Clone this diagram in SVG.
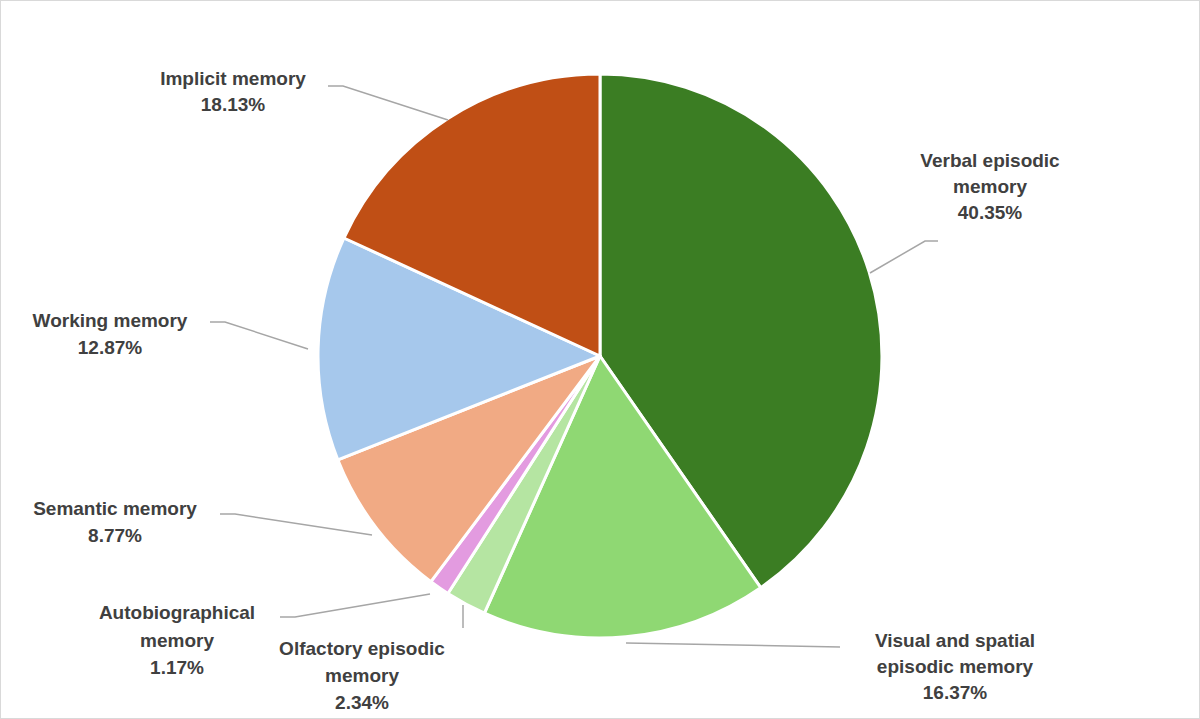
<svg xmlns="http://www.w3.org/2000/svg" width="1200" height="719" viewBox="0 0 1200 719">
<style>
.s{stroke:#fff;stroke-width:3;stroke-linejoin:round}
.l{fill:none;stroke:#a6a6a6;stroke-width:1.5}
text{font-family:"Liberation Sans",Arial,sans-serif;font-weight:bold;font-size:19px;fill:#404040;text-anchor:middle}
</style>
<rect x="0.5" y="0.5" width="1199" height="718" fill="#fff" stroke="#d9d9d9"/>
<g id="slices">
<path id="verbal" class="s" fill="#3b7d23" d="M600,356 L600,74 A282,282 0 0 1 760.7,587.7 Z"/>
<path id="visual" class="s" fill="#8fd873" d="M600,356 L760.7,587.7 A282,282 0 0 1 484.4,613.2 Z"/>
<path id="olfactory" class="s" fill="#b5e5a2" d="M600,356 L484.4,613.2 A282,282 0 0 1 447.9,593.5 Z"/>
<path id="autobio" class="s" fill="#e39be0" d="M600,356 L447.9,593.5 A282,282 0 0 1 430.9,581.7 Z"/>
<path id="semantic" class="s" fill="#f1aa84" d="M600,356 L430.9,581.7 A282,282 0 0 1 337.8,459.8 Z"/>
<path id="working" class="s" fill="#a6c8ec" d="M600,356 L337.8,459.8 A282,282 0 0 1 343.9,238 Z"/>
<path id="implicit" class="s" fill="#c04f15" d="M600,356 L343.9,238 A282,282 0 0 1 600,74 Z"/>
</g>
<g id="connectors">
<polyline class="l" points="328,86 343,86 448,120"/>
<polyline class="l" points="870,273 925,241 938,241"/>
<polyline class="l" points="210,322 225,322 308,349"/>
<polyline class="l" points="220,514 235,514 372,535"/>
<polyline class="l" points="280,617 295,617 430,594"/>
<polyline class="l" points="463,605 463,628"/>
<polyline class="l" points="626,643 840,647"/>
</g>
<g id="labels">
<text x="233" y="85">Implicit memory</text><text x="233" y="111">18.13%</text>
<text x="990" y="167">Verbal episodic</text><text x="990" y="193">memory</text><text x="990" y="219">40.35%</text>
<text x="110" y="327">Working memory</text><text x="110" y="354">12.87%</text>
<text x="115" y="515">Semantic memory</text><text x="115" y="542">8.77%</text>
<text x="177" y="619">Autobiographical</text><text x="177" y="647">memory</text><text x="177" y="674">1.17%</text>
<text x="362" y="655">Olfactory episodic</text><text x="362" y="682">memory</text><text x="362" y="709">2.34%</text>
<text x="955" y="647">Visual and spatial</text><text x="955" y="673">episodic memory</text><text x="955" y="699">16.37%</text>
</g>
</svg>
